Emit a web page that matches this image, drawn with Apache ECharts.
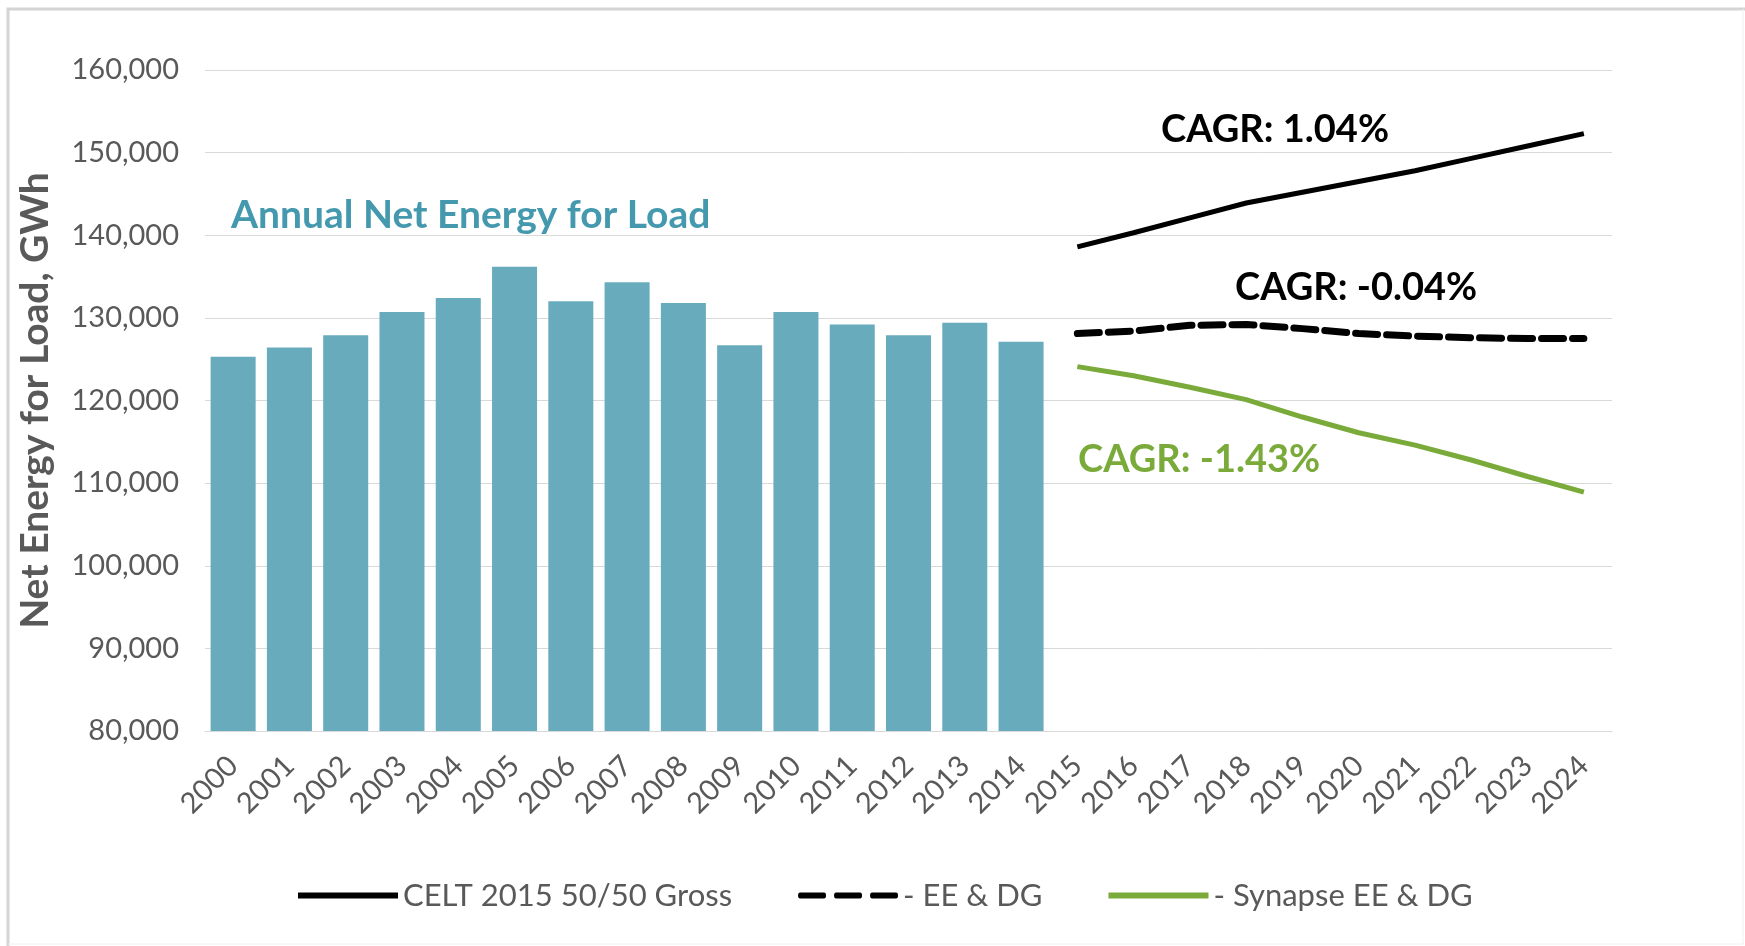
<!DOCTYPE html>
<html>
<head>
<meta charset="utf-8">
<script src="https://cdn.jsdelivr.net/npm/echarts@6/dist/echarts.min.js"></script>
<style>
html,body{margin:0;padding:0;background:#fff;}
#chart{width:1745px;height:946px;}
</style>
</head>
<body>
<div id="chart"></div>
<script>
const years = ['2000','2001','2002','2003','2004','2005','2006','2007','2008','2009','2010','2011','2012','2013','2014','2015','2016','2017','2018','2019','2020','2021','2022','2023','2024'];
const netEnergy = [125300,126400,127900,130700,132400,136200,132000,134300,131800,126700,130700,129200,127900,129400,127100,null,null,null,null,null,null,null,null,null,null];
const celt = [null,null,null,null,null,null,null,null,null,null,null,null,null,null,null,138600,140300,142100,143900,145200,146500,147800,149300,150800,152300];
const eeDg = [null,null,null,null,null,null,null,null,null,null,null,null,null,null,null,128100,128400,129100,129200,128700,128100,127800,127600,127500,127500];
const synapse = [null,null,null,null,null,null,null,null,null,null,null,null,null,null,null,124100,123000,121600,120100,118000,116100,114600,112800,110800,108900];
const yTicks = {min: 80000, max: 160000, interval: 10000};

const FONT = 'Lato';
const GREY = '#595959';
const DASH_ICON = 'path://M2,0 h24 a2,3 0 0 1 0,6 h-24 a2,3 0 0 1 0,-6z M38,0 h24 a2,3 0 0 1 0,6 h-24 a2,3 0 0 1 0,-6z M74,0 h24 a2,3 0 0 1 0,6 h-24 a2,3 0 0 1 0,-6z';
const chart = echarts.init(document.getElementById('chart'));
chart.setOption({
  animation: false,
  backgroundColor: '#fff',
  textStyle: {fontFamily: FONT},
  grid: {left: 205, right: 133, top: 70, bottom: 215, containLabel: false},
  xAxis: {
    type: 'category',
    data: years,
    axisTick: {show: false},
    axisLine: {show: true, lineStyle: {color: '#d9d9d9', width: 1}},
    axisLabel: {rotate: 45, margin: 30, color: GREY, fontSize: 29, fontFamily: FONT, interval: 0}
  },
  yAxis: {
    type: 'value',
    min: yTicks.min, max: yTicks.max, interval: yTicks.interval,
    axisLine: {show: false},
    axisTick: {show: false},
    splitLine: {lineStyle: {color: '#d9d9d9', width: 1}},
    axisLabel: {
      color: GREY, fontSize: 29, fontFamily: FONT, margin: 26,
      formatter: v => v.toLocaleString('en-US')
    },
    name: 'Net Energy for Load, GWh',
    nameLocation: 'middle',
    nameRotate: 90,
    nameGap: 150,
    nameTextStyle: {color: GREY, fontSize: 39, fontWeight: 'bold', fontFamily: FONT}
  },
  legend: {
    bottom: 30,
    left: 293,
    itemWidth: 100,
    itemHeight: 6,
    itemGap: 66,
    textStyle: {color: GREY, fontSize: 31, fontFamily: FONT},
    data: [
      {name: 'CELT 2015 50/50 Gross', icon: 'rect', itemStyle: {color: '#000'}},
      {name: '- EE & DG', icon: DASH_ICON, itemStyle: {color: '#000'}},
      {name: '- Synapse EE & DG', icon: 'rect', itemStyle: {color: '#7aab3a'}}
    ]
  },
  series: [
    {
      name: 'Annual Net Energy for Load',
      type: 'bar',
      data: netEnergy,
      barCategoryGap: '20%',
      itemStyle: {color: '#68abbd'}
    },
    {
      name: 'CELT 2015 50/50 Gross',
      type: 'line',
      data: celt,
      showSymbol: false,
      symbol: 'none',
      itemStyle: {color: '#000'},
      lineStyle: {color: '#000', width: 5}
    },
    {
      name: '- EE & DG',
      type: 'line',
      data: eeDg,
      showSymbol: false,
      symbol: 'none',
      itemStyle: {color: '#000'},
      lineStyle: {color: '#000', width: 7, type: [22, 9], cap: 'round'}
    },
    {
      name: '- Synapse EE & DG',
      type: 'line',
      data: synapse,
      showSymbol: false,
      symbol: 'none',
      itemStyle: {color: '#7aab3a'},
      lineStyle: {color: '#7aab3a', width: 5}
    }
  ],
  graphic: [
    {type: 'polyline', shape: {points: [[8, 946], [8, 9], [1745, 9]]}, style: {stroke: '#d4d4d4', lineWidth: 3, fill: null}},
    {type: 'polyline', shape: {points: [[1743, 9], [1743, 944], [8, 944]]}, style: {stroke: '#f0f0f0', lineWidth: 1, fill: null}},
    {type: 'text', left: 231, top: 196, style: {text: 'Annual Net Energy for Load', fill: '#4499ae', font: 'bold 39px ' + FONT}},
    {type: 'text', left: 1161, top: 111, style: {text: 'CAGR: 1.04%', fill: '#000', font: 'bold 38px ' + FONT}},
    {type: 'text', left: 1235, top: 269, style: {text: 'CAGR: -0.04%', fill: '#000', font: 'bold 38px ' + FONT}},
    {type: 'text', left: 1078, top: 441, style: {text: 'CAGR: -1.43%', fill: '#7aab3a', font: 'bold 38px ' + FONT}}
  ]
});
</script>
</body>
</html>
